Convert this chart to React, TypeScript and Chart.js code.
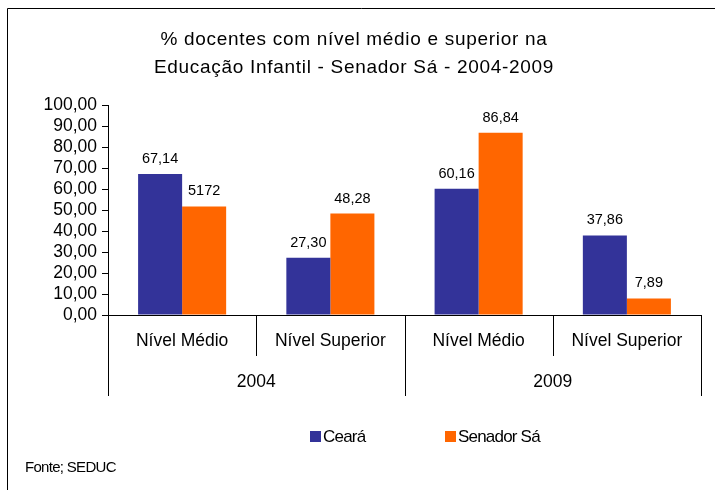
import React, { useEffect, useRef } from "react";
import { Chart, registerables } from "chart.js";

Chart.register(...registerables);

const titleLines = ["% docentes com nível médio e superior na", "Educação Infantil - Senador Sá - 2004-2009"];
const categories = ["Nível Médio", "Nível Superior", "Nível Médio", "Nível Superior"];
const groups = ["2004", "2009"];
const seriesNames = ["Ceará", "Senador Sá"];
const cearaValues = [67.14, 27.3, 60.16, 37.86];
const senadorValues = [51.72, 48.28, 86.84, 7.89];
const cearaLabels = ["67,14", "27,30", "60,16", "37,86"];
const senadorLabels = ["5172", "48,28", "86,84", "7,89"];
const seriesColors = ["#333399", "#FF6600"];
const sourceText = "Fonte; SEDUC";

const FONT = "'Liberation Sans', Arial, sans-serif";

const fmt = (v: number) => v.toFixed(2).replace(".", ",");

const decorPlugin = {
  id: "decor",
  afterDraw(chart: any) {
    const ctx = chart.ctx as CanvasRenderingContext2D;
    const xs = chart.scales.x;
    const area = chart.chartArea;
    ctx.save();
    // frame
    ctx.strokeStyle = "#000";
    ctx.lineWidth = 1;
    ctx.beginPath();
    ctx.moveTo(7.5, 490);
    ctx.lineTo(7.5, 8.5);
    ctx.lineTo(715, 8.5);
    ctx.stroke();

    // title
    ctx.fillStyle = "#000";
    ctx.textAlign = "center";
    ctx.textBaseline = "middle";
    ctx.font = `19px ${FONT}`;
    (ctx as any).letterSpacing = "0.7px";
    ctx.fillText(titleLines[0], 354, 40);
    ctx.fillText(titleLines[1], 354, 68);
    (ctx as any).letterSpacing = "0px";

    // separators
    const half = (xs.getPixelForValue(1) - xs.getPixelForValue(0)) / 2;
    const axisY = area.bottom;
    ctx.beginPath();
    for (let i = 0; i <= categories.length; i++) {
      const x = Math.round(i < categories.length ? xs.getPixelForValue(i) - half : xs.getPixelForValue(i - 1) + half) + 0.5;
      const long = i % 2 === 0;
      ctx.moveTo(x, axisY);
      ctx.lineTo(x, axisY + (long ? 81 : 41));
    }
    ctx.stroke();

    // group labels
    ctx.font = `17.5px ${FONT}`;
    groups.forEach((g, gi) => {
      const x = (xs.getPixelForValue(gi * 2) + xs.getPixelForValue(gi * 2 + 1)) / 2;
      ctx.fillText(g, x, axisY + 67);
    });

    // data labels
    ctx.font = `14.5px ${FONT}`;
    ctx.textBaseline = "alphabetic";
    [cearaLabels, senadorLabels].forEach((labels, di) => {
      const meta = chart.getDatasetMeta(di);
      meta.data.forEach((bar: any, i: number) => {
        ctx.fillText(labels[i], bar.x, bar.y - 11);
      });
    });

    // legend
    ctx.font = `17px ${FONT}`;
    ctx.textAlign = "left";
    ctx.textBaseline = "middle";
    (ctx as any).letterSpacing = "-0.8px";
    const legendX = [310, 445];
    seriesNames.forEach((n, i) => {
      ctx.fillStyle = seriesColors[i];
      ctx.fillRect(legendX[i], 431, 11, 11);
      ctx.fillStyle = "#000";
      ctx.fillText(n, legendX[i] + 13, 437);
    });

    // source
    ctx.font = `15px ${FONT}`;
    (ctx as any).letterSpacing = "-0.7px";
    ctx.fillText(sourceText, 25, 468);
    (ctx as any).letterSpacing = "0px";
    ctx.restore();
  },
};

export default function App() {
  const ref = useRef<HTMLCanvasElement>(null);
  useEffect(() => {
    if (!ref.current) return;
    const chart = new Chart(ref.current, {
      type: "bar",
      data: {
        labels: categories,
        datasets: [
          {
            label: seriesNames[0],
            data: cearaValues,
            backgroundColor: seriesColors[0],
            barPercentage: 1,
            categoryPercentage: 0.594,
          },
          {
            label: seriesNames[1],
            data: senadorValues,
            backgroundColor: seriesColors[1],
            barPercentage: 1,
            categoryPercentage: 0.594,
          },
        ],
      },
      options: {
        responsive: false,
        animation: false,
        layout: { padding: { top: 105, right: 14, left: 0, bottom: 0 } },
        plugins: {
          legend: { display: false },
          title: { display: false },
          tooltip: { enabled: false },
        },
        scales: {
          x: {
            grid: { display: false, drawTicks: false },
            border: { display: true, color: "#000", width: 1 },
            ticks: { color: "#000", font: { size: 17.5, family: FONT }, padding: 16, maxRotation: 0 },
            afterFit: (s: any) => {
              s.height = 175;
            },
          },
          y: {
            min: 0,
            max: 100,
            grid: { drawOnChartArea: false, drawTicks: true, tickLength: 6, color: "#000" },
            border: { display: true, color: "#000", width: 1 },
            ticks: {
              stepSize: 10,
              autoSkip: false,
              color: "#000",
              font: { size: 17.5, family: FONT },
              padding: 5,
              callback: (v: any) => fmt(Number(v)),
            },
            afterFit: (s: any) => {
              s.width = 108;
            },
          },
        },
      },
      plugins: [decorPlugin],
    });
    return () => chart.destroy();
  }, []);
  return (
    <div style={{ position: "fixed", left: 0, top: 0, width: 715, height: 490, background: "#fff" }}>
      <canvas ref={ref} width={715} height={490} style={{ display: "block" }} />
    </div>
  );
}
